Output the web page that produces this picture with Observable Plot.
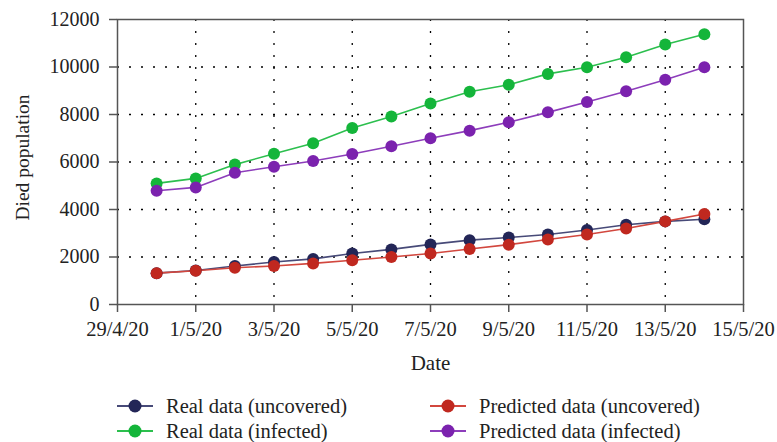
<!DOCTYPE html>
<html>
<head>
<meta charset="utf-8">
<script src="https://cdn.jsdelivr.net/npm/d3@7"></script>
<script src="https://cdn.jsdelivr.net/npm/@observablehq/plot@0.6"></script>
<style>
  body { margin: 0; background: #fff; font-family: "Liberation Serif", "DejaVu Serif", serif; }
  #chart svg { display: block; }
  #chart svg g[aria-label="y-axis tick label"] { font-size: 20px; }
  #chart svg g[aria-label="x-axis tick label"] { font-size: 20.5px; }
  #legend { position: relative; height: 64px; font-size: 20.5px; color: #222; }
  .item { position: absolute; display: flex; align-items: center; gap: 13px; line-height: 24px; }
  .item svg { overflow: visible; display: block; }
</style>
</head>
<body>
<div id="chart"></div>
<div id="legend"></div>
<script>
const dates = ["2020-04-30","2020-05-01","2020-05-02","2020-05-03","2020-05-04","2020-05-05","2020-05-06","2020-05-07","2020-05-08","2020-05-09","2020-05-10","2020-05-11","2020-05-12","2020-05-13","2020-05-14"];
const realUncovered = [1320,1430,1620,1790,1920,2150,2320,2530,2710,2820,2950,3140,3360,3500,3590];
const predictedUncovered = [1320,1420,1550,1620,1730,1860,2000,2150,2340,2520,2740,2950,3200,3500,3810];
const realInfected = [5100,5310,5890,6350,6790,7430,7920,8460,8960,9250,9710,9990,10410,10950,11380];
const predictedInfected = [4790,4930,5550,5800,6040,6340,6660,7000,7320,7670,8090,8530,8980,9460,9990];
const xTicks = ["2020-04-29","2020-05-01","2020-05-03","2020-05-05","2020-05-07","2020-05-09","2020-05-11","2020-05-13","2020-05-15"];
const yTicks = [0,2000,4000,6000,8000,10000,12000];

const seriesNames = ["Real data (uncovered)","Predicted data (uncovered)","Real data (infected)","Predicted data (infected)"];
const seriesValues = [realUncovered, predictedUncovered, realInfected, predictedInfected];
const seriesColors = ["#232657","#c0281f","#14b53a","#7b22ae"];
const lineColors = ["#474a78","#d2473e","#2cbf4e","#8d3dbb"];

const parse = d3.utcParse("%Y-%m-%d");
const data = [];
seriesNames.forEach((name, i) => {
  dates.forEach((d, j) => data.push({series: name, date: parse(d), value: seriesValues[i][j]}));
});
const xt = xTicks.map(parse);
const fmt = d => `${d.getUTCDate()}/${d.getUTCMonth()+1}/${String(d.getUTCFullYear()).slice(2)}`;

const chart = Plot.plot({
  width: 777,
  height: 378,
  marginTop: 19,
  marginBottom: 74,
  marginLeft: 117,
  marginRight: 34,
  style: {fontFamily: "'Liberation Serif', 'DejaVu Serif', serif", fontSize: "20px", color: "#222", background: "#fff", overflow: "visible"},
  x: {type: "utc", domain: [xt[0], xt[xt.length-1]]},
  y: {domain: [0, 12000]},
  marks: [
    Plot.gridY(yTicks.slice(1, -1), {stroke: "#000", strokeOpacity: 1, strokeDasharray: "2,10", strokeWidth: 1.3}),
    Plot.gridX(xt.slice(1, -1), {stroke: "#000", strokeOpacity: 1, strokeDasharray: "2,10", strokeWidth: 1.3}),
    Plot.frame({stroke: "#555", strokeWidth: 1.5}),
    Plot.axisY(yTicks, {tickSize: 8, tickFormat: d => String(d), tickPadding: 10, stroke: "#555", strokeWidth: 1.5, fontSize: 20, label: null}),
    Plot.axisX(xt, {tickSize: 8, tickFormat: fmt, tickPadding: 9, stroke: "#555", strokeWidth: 1.5, fontSize: 20.5, label: null}),
    Plot.text(["Date"], {frameAnchor: "bottom", lineAnchor: "middle", dy: 59, fontSize: 21}),
    Plot.text(["Died population"], {frameAnchor: "left", textAnchor: "middle", dx: -95, dy: -4.5, rotate: -90, fontSize: 19.5}),
    ...seriesNames.map((name, i) => Plot.line(data.filter(d => d.series === name), {x: "date", y: "value", stroke: lineColors[i], strokeWidth: 1.6})),
    ...seriesNames.map((name, i) => Plot.dot(data.filter(d => d.series === name), {x: "date", y: "value", r: 6, fill: seriesColors[i], stroke: "none"}))
  ]
});
document.getElementById("chart").appendChild(chart);

// Legend
const legend = document.getElementById("legend");
const positions = [[117, 28], [430, 28], [117, 53], [430, 53]];
seriesNames.forEach((name, i) => {
  const [x, y] = positions[i];
  const item = document.createElement("div");
  item.className = "item";
  item.style.left = x + "px";
  item.style.top = (y - 12) + "px";
  item.innerHTML = `<svg width="36" height="14"><line x1="0" y1="7" x2="36" y2="7" stroke="${lineColors[i]}" stroke-width="1.8"/><circle cx="18" cy="7" r="6.5" fill="${seriesColors[i]}"/></svg><span>${name}</span>`;
  legend.appendChild(item);
});
</script>
</body>
</html>
